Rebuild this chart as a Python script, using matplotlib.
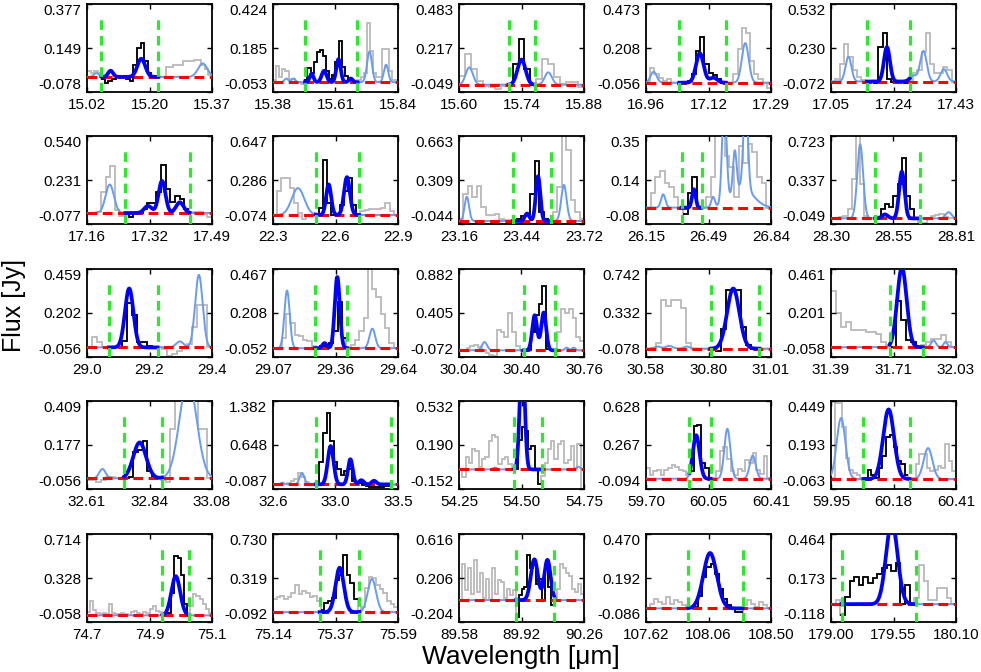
import numpy as np
import matplotlib
matplotlib.use("Agg")
import matplotlib.pyplot as plt

plt.rcParams['font.family'] = ['Liberation Sans', 'DejaVu Sans']

# axis ranges, tick labels, fit windows and continuum level per panel
xlims = [(15.02, 15.37), (15.38, 15.84), (15.60, 15.88), (16.96, 17.29), (17.05, 17.43),
         (17.16, 17.49), (22.3, 22.9), (23.16, 23.72), (26.15, 26.84), (28.30, 28.81),
         (29.0, 29.4), (29.07, 29.64), (30.04, 30.76), (30.58, 31.01), (31.39, 32.03),
         (32.61, 33.08), (32.6, 33.5), (54.25, 54.75), (59.70, 60.41), (59.95, 60.41),
         (74.7, 75.1), (75.14, 75.59), (89.58, 90.26), (107.62, 108.50), (179.00, 180.10)]
ylims = [(-0.078, 0.377), (-0.053, 0.424), (-0.049, 0.483), (-0.056, 0.473), (-0.072, 0.532),
         (-0.077, 0.540), (-0.074, 0.647), (-0.044, 0.663), (-0.08, 0.35), (-0.049, 0.723),
         (-0.056, 0.459), (-0.052, 0.467), (-0.072, 0.882), (-0.078, 0.742), (-0.058, 0.461),
         (-0.056, 0.409), (-0.087, 1.382), (-0.152, 0.532), (-0.094, 0.628), (-0.063, 0.449),
         (-0.058, 0.714), (-0.092, 0.730), (-0.204, 0.616), (-0.086, 0.470), (-0.118, 0.464)]
xtick_labels = [["15.02", "15.20", "15.37"], ["15.38", "15.61", "15.84"], ["15.60", "15.74", "15.88"],
                ["16.96", "17.12", "17.29"], ["17.05", "17.24", "17.43"], ["17.16", "17.32", "17.49"],
                ["22.3", "22.6", "22.9"], ["23.16", "23.44", "23.72"], ["26.15", "26.49", "26.84"],
                ["28.30", "28.55", "28.81"], ["29.0", "29.2", "29.4"], ["29.07", "29.36", "29.64"],
                ["30.04", "30.40", "30.76"], ["30.58", "30.80", "31.01"], ["31.39", "31.71", "32.03"],
                ["32.61", "32.84", "33.08"], ["32.6", "33.0", "33.5"], ["54.25", "54.50", "54.75"],
                ["59.70", "60.05", "60.41"], ["59.95", "60.18", "60.41"], ["74.7", "74.9", "75.1"],
                ["75.14", "75.37", "75.59"], ["89.58", "89.92", "90.26"], ["107.62", "108.06", "108.50"],
                ["179.00", "179.55", "180.10"]]
ytick_labels = [["-0.078", "0.149", "0.377"], ["-0.053", "0.185", "0.424"], ["-0.049", "0.217", "0.483"],
                ["-0.056", "0.208", "0.473"], ["-0.072", "0.230", "0.532"], ["-0.077", "0.231", "0.540"],
                ["-0.074", "0.286", "0.647"], ["-0.044", "0.309", "0.663"], ["-0.08", "0.14", "0.35"],
                ["-0.049", "0.337", "0.723"], ["-0.056", "0.202", "0.459"], ["-0.052", "0.208", "0.467"],
                ["-0.072", "0.405", "0.882"], ["-0.078", "0.332", "0.742"], ["-0.058", "0.201", "0.461"],
                ["-0.056", "0.177", "0.409"], ["-0.087", "0.648", "1.382"], ["-0.152", "0.190", "0.532"],
                ["-0.094", "0.267", "0.628"], ["-0.063", "0.193", "0.449"], ["-0.058", "0.328", "0.714"],
                ["-0.092", "0.319", "0.730"], ["-0.204", "0.206", "0.616"], ["-0.086", "0.192", "0.470"],
                ["-0.118", "0.173", "0.464"]]
windows = [(15.06, 15.22), (15.498, 15.69), (15.711, 15.77), (17.048, 17.171), (17.159, 17.289),
           (17.261, 17.431), (22.505, 22.713), (23.402, 23.573), (26.346, 26.457), (28.48, 28.662),
           (29.07, 29.226), (29.26, 29.409), (30.412, 30.592), (30.802, 30.97), (31.69, 31.86),
           (32.75, 32.892), (32.907, 33.447), (54.47, 54.58), (59.947, 60.067), (60.069, 60.239),
           (74.941, 75.026), (75.308, 75.45), (89.89, 90.099), (107.917, 108.30), (179.094, 179.747)]
continuum = [0.0, 0.0, -0.005, 0.0, 0.0, 0.0, 0.0, -0.02, 0.0, 0.0,
             0.0, 0.0, 0.0, 0.0, 0.0, 0.0, -0.01, 0.0, -0.01, -0.005,
             0.0, 0.0, 0.0, 0.0, 0.0]

# binned spectra (Jy), evenly spaced bins over each panel's x range
f01 = [0.03, 0.02, 0.03, 0.02, -0.01, -0.03, -0.02, -0.01, 0.0, 0.0, 0.0, -0.01, -0.02, 0.06, 0.15, 0.175,
       0.08, 0.02, 0.0, 0.0, 0.0, 0.0, 0.05, 0.05, 0.06, 0.06, 0.06, 0.08, 0.08, 0.08, 0.085, 0.085, 0.06, 0.04, 0.01]
f02 = [0.01, 0.09, 0.03, 0.07, 0.06, 0.02, 0.02, 0.0, 0.0, -0.01, 0.01, 0.075, 0.05, 0.11, 0.165, 0.175, 0.14,
       0.06, 0.02, 0.04, 0.11, 0.225, 0.08, 0.035, 0.02, 0.005, 0.0, 0.01, 0.03, 0.05, 0.32, 0.17, 0.05, 0.03,
       0.03, 0.18, 0.18, 0.06, 0.01, 0.01]
f03 = [0.05, 0.18, 0.09, 0.02, -0.01, -0.02, -0.03, -0.01, -0.005, 0.12, 0.27, 0.09, -0.005, 0.03, 0.15,
       0.12, 0.04, 0.0, 0.01, 0.01, -0.02]
f04 = [0.01, 0.09, 0.05, 0.03, 0.01, 0.02, 0.0, 0.0, 0.0, 0.0, 0.01, 0.05, 0.19, 0.275, 0.11, 0.06, 0.045,
       0.02, 0.0, 0.0, 0.0, 0.05, 0.2, 0.33, 0.3, 0.13, 0.05, 0.02, 0.0, -0.03]
f05 = [0.0, 0.02, 0.12, 0.26, 0.17, 0.08, 0.03, 0.01, 0.0, 0.0, -0.01, 0.24, 0.33, 0.02, 0.0, 0.0, 0.0, -0.01,
       0.01, 0.06, 0.08, 0.2, 0.33, 0.12, 0.06, 0.06, 0.1, 0.08, 0.0]
f06 = [0.0, 0.0, 0.01, 0.15, 0.25, 0.33, 0.02, -0.02, 0.0, -0.03, 0.0, 0.0, 0.03, 0.07, 0.07, 0.15, 0.335,
       0.17, 0.08, 0.12, 0.1, 0.03, 0.0, 0.01, 0.01, -0.01, -0.03]
f07 = [0.0, 0.2, 0.3, 0.3, 0.22, 0.1, 0.02, -0.03, 0.0, 0.0, 0.0, 0.06, 0.45, 0.1, 0.0, 0.0, 0.08, 0.2, 0.3,
       0.08, 0.0, 0.03, 0.04, 0.05, 0.05, 0.05, 0.06, 0.1, 0.03, 0.0]
f08 = [0.0, 0.2, 0.26, 0.17, 0.26, 0.09, 0.03, 0.03, 0.04, 0.0, -0.01, -0.01, -0.02, 0.0, 0.02, 0.04, 0.2,
       0.46, 0.05, 0.0, -0.02, 0.05, 0.25, 0.75, 0.55, 0.15, 0.05, 0.0]
f09 = [0.0, 0.07, 0.15, 0.18, 0.12, 0.1, 0.05, 0.0, -0.03, 0.07, 0.15, 0.0, 0.0, 0.05, 0.15, 0.45, 0.5, 0.25,
       0.2, 0.05, 0.3, 0.22, 0.31, 0.27, 0.15, 0.12, 0.0]
f10 = [0.0, 0.0, 0.01, 0.02, 0.08, 0.35, 0.75, 0.3, 0.02, 0.0, 0.0, 0.0, 0.08, 0.13, 0.1, 0.2, 0.3, 0.53, 0.2,
       0.08, 0.0, -0.04, -0.04, 0.0, 0.02, 0.03, 0.04, 0.01, 0.0, 0.0]
f11 = [0.0, 0.06, 0.03, 0.0, 0.0, 0.0, 0.0, 0.04, 0.26, 0.19, 0.03, 0.03, 0.01, 0.0, 0.0, -0.01, -0.05, -0.04,
       -0.02, 0.0, 0.02, 0.12, 0.25, 0.25, 0.0]
f12 = [0.0, 0.0, 0.06, 0.2, 0.15, 0.08, 0.07, 0.05, 0.04, 0.01, 0.0, 0.01, 0.02, 0.03, 0.1, 0.27, 0.06, 0.0,
       0.02, 0.05, 0.1, 0.18, 0.5, 0.35, 0.3, 0.2, 0.12, 0.03, 0.0]
f13 = [0.0, 0.0, 0.03, 0.05, 0.06, 0.04, 0.0, -0.03, -0.05, -0.06, 0.22, 0.2, 0.15, 0.4, 0.2, 0.05, 0.0, 0.0,
       0.0, 0.2, 0.38, 0.5, 0.7, 0.02, 0.0, 0.0, 0.2, 0.45, 0.4, 0.45, 0.35, 0.15, 0.1]
f14 = [0.0, 0.01, 0.05, 0.45, 0.4, 0.45, 0.45, 0.38, 0.05, 0.0, 0.0, 0.0, 0.0, 0.0, -0.02, 0.18, 0.55, 0.55,
       0.55, 0.2, 0.03, 0.0, 0.0, 0.0, 0.0]
f15 = [0.33, 0.2, 0.12, 0.15, 0.1, 0.1, 0.1, 0.09, 0.09, 0.08, 0.03, 0.0, 0.0, 0.27, 0.16, 0.04, 0.03, 0.0,
       0.01, 0.03, 0.05, 0.05, 0.07, 0.03, 0.0]
f16 = [-0.01, -0.01, -0.02, -0.01, 0.01, 0.01, 0.0, 0.0, 0.0, 0.01, 0.14, 0.15, 0.2, 0.04, 0.0, 0.0, -0.01,
       -0.02, 0.26, 0.5, 0.6, 0.6, 0.55, 0.45, 0.26, 0.26, 0.0]
f17 = [-0.01, 0.0, 0.0, 0.0, 0.02, 0.04, 0.08, 0.18, 0.12, 0.03, 0.0, 0.0, 0.0, 0.37, 0.84, 1.19, 0.71, 0.36,
       0.25, 0.15, 0.22, 0.25, 0.05, 0.03, 0.02, -0.02, -0.03, -0.05, -0.06, -0.06, -0.05, -0.04, -0.03,
       -0.02, -0.02]
f18 = [0.0, -0.06, 0.1, 0.05, 0.16, 0.14, 0.02, 0.08, 0.1, 0.22, 0.27, 0.25, 0.04, 0.08, 0.1, 0.04, 0.02, 0.0,
       0.23, 0.33, 0.3, 0.16, 0.18, 0.0, -0.11, -0.05, 0.05, 0.16, 0.22, 0.08, 0.2, 0.22, 0.05, 0.07, 0.18, 0.0,
       0.2, -0.15]
f19 = [0.08, 0.02, 0.05, 0.06, 0.02, 0.06, 0.08, 0.1, 0.09, 0.06, 0.05, 0.02, 0.05, 0.42, 0.43, 0.12, 0.08,
       0.0, 0.0, 0.05, 0.22, 0.25, 0.15, 0.05, 0.02, 0.07, 0.05, 0.14, 0.12, 0.2, 0.06, 0.03, 0.18, 0.0]
f20 = [0.0, 0.44, 0.44, 0.3, 0.12, 0.05, 0.03, 0.02, 0.0, 0.0, 0.05, 0.02, 0.0, 0.06, 0.13, 0.24, 0.25, 0.18,
       0.1, 0.08, 0.02, 0.0, 0.0, 0.08, 0.14, 0.14, 0.06, 0.04, 0.05, 0.07, 0.06, 0.2, 0.1, 0.04]
f21 = [0.03, 0.13, 0.05, 0.02, 0.01, 0.02, 0.01, 0.1, 0.02, 0.01, 0.01, 0.02, 0.01, 0.0, 0.03, 0.04, 0.02,
       0.01, 0.03, 0.02, 0.06, 0.08, 0.04, 0.03, 0.0, 0.0, 0.02, 0.2, 0.52, 0.5, 0.35, 0.1, 0.0, 0.08, 0.19,
       0.17, 0.14, 0.1, 0.06, 0.02]
f22 = [0.12, 0.14, 0.15, 0.12, 0.14, 0.18, 0.25, 0.17, 0.2, 0.18, 0.14, 0.15, 0.1, 0.02, 0.09, 0.1, 0.13, 0.3,
       0.35, 0.53, 0.35, 0.27, 0.12, 0.0, 0.05, 0.23, 0.33, 0.32, 0.25, 0.22, 0.18, 0.1, 0.08, 0.05]
f23 = [0.0, 0.34, 0.09, 0.3, 0.06, 0.37, 0.08, 0.25, 0.02, 0.2, 0.0, 0.3, 0.06, 0.19, 0.17, 0.02, 0.1, 0.05,
       0.09, -0.16, 0.05, 0.1, 0.12, 0.42, 0.3, 0.33, 0.15, 0.2, 0.0, 0.3, 0.12, -0.05, 0.0, 0.1, 0.34, 0.3,
       0.25, 0.22, 0.1, 0.08, 0.15, 0.06]
f24 = [0.0, 0.03, 0.06, 0.04, 0.03, 0.07, 0.03, 0.05, 0.04, 0.02, 0.0, 0.0, 0.01, 0.08, 0.2, 0.26, 0.28, 0.22,
       0.12, 0.06, 0.02, 0.0, -0.02, -0.02, 0.02, 0.05, 0.03, 0.01, 0.04, 0.02, 0.0]
f25 = [0.0, 0.03, -0.07, 0.05, 0.15, 0.18, 0.13, 0.18, 0.14, 0.17, 0.2, 0.24, 0.26, 0.22, 0.27, 0.0, 0.13,
       0.0, 0.04, 0.26, 0.15, 0.03, 0.03, 0.11, 0.11, 0.04, 0.0]

# gaussian line fits: (centre um, amplitude Jy, sigma um)
g01 = [(15.046, 0.02, 0.007), (15.086, 0.032, 0.007), (15.172, 0.094, 0.011), (15.344, 0.07, 0.013)]
g02 = [(15.429, 0.02, 0.007), (15.455, 0.02, 0.007), (15.522, 0.046, 0.007), (15.568, 0.062, 0.009),
       (15.621, 0.125, 0.008), (15.666, 0.02, 0.007), (15.735, 0.167, 0.009), (15.796, 0.095, 0.008)]
g03 = [(15.623, 0.105, 0.008), (15.740, 0.152, 0.009), (15.80, 0.075, 0.008)]
g04 = [(16.98, 0.066, 0.008), (17.102, 0.177, 0.01), (17.138, 0.03, 0.01), (17.222, 0.238, 0.009)]
g05 = [(17.103, 0.17, 0.009), (17.22, 0.236, 0.009), (17.30, 0.04, 0.01), (17.331, 0.21, 0.01),
       (17.393, 0.085, 0.01)]
g06 = [(17.22, 0.2, 0.011), (17.321, 0.05, 0.01), (17.358, 0.225, 0.009), (17.405, 0.075, 0.01)]
g07 = [(22.42, 0.22, 0.03), (22.567, 0.25, 0.012), (22.655, 0.31, 0.014)]
g08 = [(23.195, 0.195, 0.01), (23.465, 0.06, 0.01), (23.514, 0.36, 0.01), (23.63, 0.29, 0.012)]
g09 = [(26.245, 0.065, 0.012), (26.414, 0.09, 0.01), (26.52, 0.05, 0.01), (26.582, 0.5, 0.012),
       (26.64, 0.2, 0.01), (26.70, 0.45, 0.012), (26.68, 0.1, 0.06)]
g10 = [(28.419, 0.65, 0.012), (28.52, 0.035, 0.012), (28.589, 0.41, 0.011), (28.78, 0.055, 0.012)]
g11 = [(29.135, 0.345, 0.0135), (29.297, 0.035, 0.012), (29.358, 0.425, 0.012)]
g12 = [(29.134, 0.34, 0.012), (29.305, 0.03, 0.01), (29.363, 0.42, 0.0115), (29.523, 0.115, 0.013)]
g13 = [(30.187, 0.09, 0.015), (30.476, 0.38, 0.014), (30.528, 0.41, 0.014), (30.66, 0.03, 0.01),
       (30.70, 0.03, 0.01)]
g14 = [(30.62, 0.02, 0.01), (30.66, 0.025, 0.012), (30.72, 0.02, 0.01), (30.88, 0.56, 0.021)]
g15 = [(31.753, 0.47, 0.024), (31.915, 0.04, 0.012), (31.976, 0.03, 0.01)]
g16 = [(32.668, 0.05, 0.012), (32.808, 0.19, 0.024), (32.99, 0.52, 0.032)]
g17 = [(32.667, 0.03, 0.012), (32.809, 0.19, 0.017), (33.015, 0.64, 0.021), (33.157, 0.42, 0.017),
       (33.236, 0.07, 0.017), (33.327, 0.06, 0.017)]
g18 = [(54.394, 0.015, 0.008), (54.503, 0.93, 0.0095), (54.727, 0.02, 0.008)]
g19 = [(59.985, 0.357, 0.019), (60.162, 0.41, 0.017), (60.306, 0.19, 0.017)]
g20 = [(59.987, 0.355, 0.016), (60.162, 0.405, 0.02), (60.307, 0.18, 0.016)]
g21 = [(74.984, 0.344, 0.014)]
g22 = [(75.38, 0.415, 0.015), (75.496, 0.31, 0.015)]
g23 = [(89.99, 0.38, 0.019), (90.061, 0.375, 0.017)]
g24 = [(108.071, 0.35, 0.047)]
g25 = [(179.535, 0.55, 0.05)]

spectra = [f01, f02, f03, f04, f05, f06, f07, f08, f09, f10, f11, f12, f13,
           f14, f15, f16, f17, f18, f19, f20, f21, f22, f23, f24, f25]
fits = [g01, g02, g03, g04, g05, g06, g07, g08, g09, g10, g11, g12, g13,
        g14, g15, g16, g17, g18, g19, g20, g21, g22, g23, g24, g25]

W, H = 981, 672
col_left = [87, 273, 459, 646, 831]
row_top = [4, 136, 269, 401, 534]
pw, ph = 125, 88

gray = '#b9b9b9'
light_blue = '#6a9bec'
green = '#2ee82e'

fig = plt.figure(figsize=(W / 100, H / 100), dpi=100)

for i in range(25):
    r, c = divmod(i, 5)
    ax = fig.add_axes([col_left[c] / W, 1 - (row_top[r] + ph) / H, pw / W, ph / H])
    x0, x1 = xlims[i]
    y0, y1 = ylims[i]
    w0, w1 = windows[i]
    base = continuum[i]
    flux = np.array(spectra[i])

    edges = np.linspace(x0, x1, len(flux) + 1)
    centers = 0.5 * (edges[:-1] + edges[1:])
    ax.stairs(flux, edges, baseline=None, color=gray, lw=1.3, zorder=1)
    inside = np.where((centers >= w0) & (centers <= w1))[0]
    a, b = inside[0], inside[-1] + 1
    ax.stairs(flux[a:b], edges[a:b + 1], baseline=None, color='black', lw=1.3, zorder=2)

    xx = np.linspace(x0, x1, 1000)
    model = np.full_like(xx, base)
    for cen, amp, sig in fits[i]:
        model += amp * np.exp(-0.5 * ((xx - cen) / sig) ** 2)
    ax.plot(xx, model, color=light_blue, lw=1.4, zorder=3)
    ax.axhline(base, color='#ff0000', lw=2.2, ls=(0, (3.2, 1.8)), zorder=4)
    m = (xx >= w0) & (xx <= w1)
    ax.plot(xx[m], model[m], color='#0000ff', lw=2.7, zorder=5)
    for w in (w0, w1):
        ax.axvline(w, ymin=0, ymax=0.88, color=green, lw=2.3, ls=(0, (3.0, 1.9)), zorder=6)

    ax.set_xlim(x0, x1)
    ax.set_ylim(y0, y1)
    ax.set_xticks([x0, (x0 + x1) / 2, x1])
    ax.set_xticklabels(xtick_labels[i])
    ax.set_yticks([y0, (y0 + y1) / 2, y1])
    labs = ax.set_yticklabels(ytick_labels[i])
    labs[0].set_va('bottom')
    labs[2].set_va('top')
    ax.tick_params(direction='in', length=3.5, width=1, top=True, right=True,
                   labelsize=11, pad=4)
    for s in ax.spines.values():
        s.set_linewidth(1.3)

fig.text(14 / W, 1 - 305 / H, 'Flux [Jy]', rotation=90, ha='center', va='center', fontsize=18)
fig.text(521 / W, 1 - 657 / H, 'Wavelength [\u03bcm]', ha='center', va='center', fontsize=19)

fig.savefig('out.png', dpi=100)
